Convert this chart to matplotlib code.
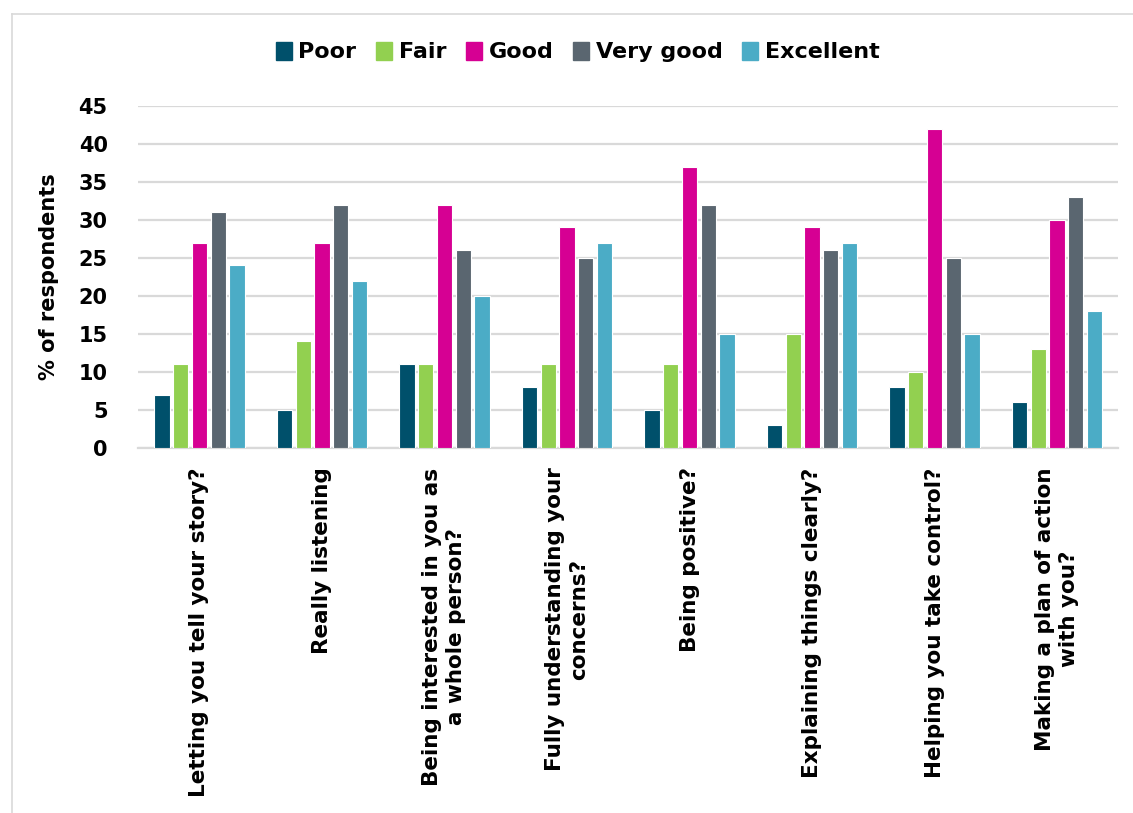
import matplotlib
matplotlib.use("Agg")
import matplotlib.pyplot as plt
import numpy as np
from matplotlib.lines import Line2D

categories = [
    "Letting you tell your story?",
    "Really listening",
    "Being interested in you as\na whole person?",
    "Fully understanding your\nconcerns?",
    "Being positive?",
    "Explaining things clearly?",
    "Helping you take control?",
    "Making a plan of action\nwith you?",
]
series_names = ["Poor", "Fair", "Good", "Very good", "Excellent"]
poor = [7, 5, 11, 8, 5, 3, 8, 6]
fair = [11, 14, 11, 11, 11, 15, 10, 13]
good = [27, 27, 32, 29, 37, 29, 42, 30]
very_good = [31, 32, 26, 25, 32, 26, 25, 33]
excellent = [24, 22, 20, 27, 15, 27, 15, 18]
y_ticks = [0, 5, 10, 15, 20, 25, 30, 35, 40, 45]

colors = ["#00506B", "#92D050", "#D60093", "#5A6670", "#4BACC6"]
series = [poor, fair, good, very_good, excellent]

plt.rcParams['font.family'] = ['DejaVu Sans']
plt.rcParams['font.weight'] = 'bold'

fig = plt.figure(figsize=(11.33, 8.13), dpi=100)
ax = fig.add_axes([0.122, 0.449, 0.865, 0.421])

x = np.arange(len(categories))
step = 0.153
width = 0.125
for i, (name, vals, c) in enumerate(zip(series_names, series, colors)):
    ax.bar(x + (i - 2) * step, vals, width=width, color=c, edgecolor="white",
           linewidth=0.8, label=name, zorder=3)

ax.set_xlim(-0.5, len(categories) - 0.5)
ax.set_ylim(0, 45)
ax.set_yticks(y_ticks)
ax.yaxis.grid(True, color="#D9D9D9", linewidth=1.6, zorder=0)
ax.set_axisbelow(True)
for s in ["top", "right", "left"]:
    ax.spines[s].set_visible(False)
ax.spines["bottom"].set_color("#D9D9D9")
ax.spines["bottom"].set_linewidth(1.6)
ax.tick_params(axis="both", length=0, labelsize=15)
ax.tick_params(axis="y", pad=22)
ax.set_xticks(x)
ax.set_xticklabels(categories, rotation=90, ha="center", va="top",
                   multialignment="center", fontsize=15.5, linespacing=1.25)
ax.tick_params(axis="x", pad=14)
ax.set_ylabel("% of respondents", fontsize=15, fontweight="bold", labelpad=14)

handles = [plt.Rectangle((0, 0), 1, 1, color=c) for c in colors]
fig.legend(handles, series_names, loc="center", bbox_to_anchor=(0.51, 0.936),
           ncol=5, frameon=False, fontsize=16, handlelength=0.7, handleheight=0.9,
           handletextpad=0.3, columnspacing=0.9)

# light frame around the chart area
fig.add_artist(Line2D([12 / 1133, 12 / 1133], [0, 1 - 14 / 813],
                      transform=fig.transFigure, color="#D9D9D9", linewidth=1.2))
fig.add_artist(Line2D([12 / 1133, 1], [1 - 14 / 813, 1 - 14 / 813],
                      transform=fig.transFigure, color="#D9D9D9", linewidth=1.2))

fig.savefig("out.png", dpi=100)
